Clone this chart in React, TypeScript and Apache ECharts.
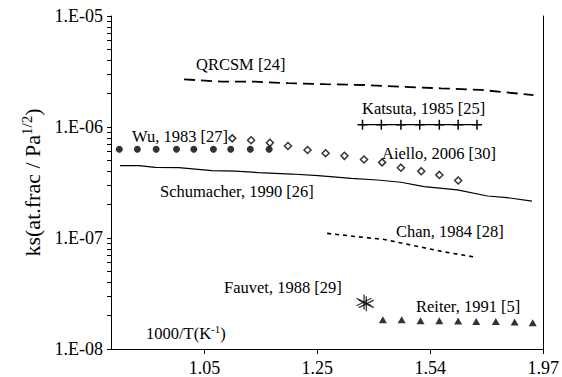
import React, { useEffect, useRef } from "react";
import * as echarts from "echarts";

// x axis: temperature (K), tick labels are 1000/T
const xTickT = [950, 800, 650, 500];
const xTickLabels = ["1.05", "1.25", "1.54", "1.97"];
const yDecades = [-8, -7, -6, -5];
const minorMultipliers = [2, 3, 4, 5, 6, 7, 8, 9];

// QRCSM [24]
const qrcsmT = [977, 927, 883, 839, 790, 737, 689, 636, 583, 513];
const qrcsmKs = [2.69e-6, 2.56e-6, 2.56e-6, 2.48e-6, 2.43e-6, 2.39e-6, 2.31e-6, 2.23e-6, 2.16e-6, 1.94e-6];
// Katsuta, 1985 [25]
const katsutaT = [740, 715, 689, 664, 638, 613, 588];
const katsutaKs = [1.05e-6, 1.05e-6, 1.05e-6, 1.05e-6, 1.05e-6, 1.05e-6, 1.05e-6];
// Wu, 1983 [27]
const wuT = [1063, 1039, 1014, 987, 964, 938, 915, 889, 864];
const wuKs = [6.3e-7, 6.3e-7, 6.3e-7, 6.3e-7, 6.3e-7, 6.3e-7, 6.3e-7, 6.3e-7, 6.3e-7];
// Aiello, 2006 [30]
const aielloT = [913, 888, 863, 839, 813, 789, 764, 738, 714, 689, 662, 638, 613];
const aielloKs = [7.9e-7, 7.6e-7, 7.2e-7, 6.75e-7, 6.2e-7, 5.8e-7, 5.5e-7, 5.1e-7, 4.8e-7, 4.3e-7, 4.0e-7, 3.7e-7, 3.3e-7];
// Schumacher, 1990 [26]
const schumacherT = [1062, 1037, 1015, 984, 940, 909, 878, 834, 799, 755, 720, 689, 658, 614, 574, 548, 515];
const schumacherKs = [4.48e-7, 4.48e-7, 4.33e-7, 4.3e-7, 4.04e-7, 4.01e-7, 3.88e-7, 3.77e-7, 3.64e-7, 3.45e-7, 3.33e-7, 3.18e-7, 2.9e-7, 2.71e-7, 2.39e-7, 2.31e-7, 2.15e-7];
// Chan, 1984 [28]
const chanT = [787, 737, 711, 676, 632, 589];
const chanKs = [1.1e-7, 1.01e-7, 9.7e-8, 8.65e-8, 7.5e-8, 6.7e-8];
// Fauvet, 1988 [29]
const fauvetT = [738, 735];
const fauvetKs = [2.65e-8, 2.55e-8];
// Reiter, 1991 [5]
const reiterT = [713, 688, 663, 638, 613, 589, 563, 538, 514];
const reiterKs = [1.83e-8, 1.83e-8, 1.8e-8, 1.8e-8, 1.79e-8, 1.77e-8, 1.77e-8, 1.75e-8, 1.72e-8];

const annotations = [
  { text: "{t|QRCSM [24]}", x: 196, y: 64 },
  { text: "{t|Katsuta, 1985 [25]}", x: 362, y: 108 },
  { text: "{t|Wu, 1983 [27]}", x: 132, y: 136 },
  { text: "{t|Aiello, 2006 [30]}", x: 382, y: 153 },
  { text: "{t|Schumacher, 1990 [26]}", x: 160, y: 191 },
  { text: "{t|Chan, 1984 [28]}", x: 396, y: 231 },
  { text: "{t|Fauvet, 1988 [29]}", x: 224, y: 287 },
  { text: "{t|Reiter, 1991 [5]}", x: 416, y: 306 },
  { text: "{t|1000/T(K}{sup|-1}{t|)}", x: 146, y: 333 },
];

const FONT = "Liberation Serif";
const PLUS = "path://M5 0L5 10M0 5L10 5";
const ASTER = "path://M10 0L10 20M1.34 5L18.66 15M1.34 15L18.66 5";

export default function App() {
  const ref = useRef<HTMLDivElement>(null);
  useEffect(() => {
    const chart = echarts.init(ref.current!, null, { renderer: "svg" });
    const pair = (xs: number[], ys: number[]) => xs.map((x, i) => [x, ys[i]]);
    const minorTicks = yDecades
      .slice(0, -1)
      .flatMap((d) => minorMultipliers.map((k) => d + Math.log10(k)));
    const black = { color: "#000", width: 1 };
    const tickRich = { s: { fontSize: 18, fontFamily: FONT, color: "#000" } };
    const option: any = {
      animation: false,
      backgroundColor: "#fff",
      textStyle: { fontFamily: FONT },
      grid: { left: 111, right: 16, top: 16, bottom: 28 },
      xAxis: {
        type: "value",
        min: 500,
        max: 1074,
        inverse: true,
        axisLine: { lineStyle: black },
        axisTick: { show: true, length: 5, inside: false, customValues: xTickT, lineStyle: black },
        axisLabel: {
          customValues: xTickT,
          formatter: (v: number) => {
            const i = xTickT.indexOf(v);
            return i >= 0 ? "{s|" + xTickLabels[i] + "}" : "";
          },
          color: "#000",
          fontSize: 18,
          fontFamily: FONT,
          margin: 10,
          rich: tickRich,
        },
        splitLine: { show: false },
      },
      yAxis: [
        {
          type: "log",
          logBase: 10,
          min: 1e-8,
          max: 1e-5,
          axisLine: { show: true, lineStyle: black },
          axisTick: { show: true, length: 4, inside: false, lineStyle: black },
          axisLabel: {
            formatter: (v: number) => {
              const e = Math.round(Math.log10(v));
              return "{s|1.E" + (e < 0 ? "-" : "+") + String(Math.abs(e)).padStart(2, "0") + "}";
            },
            color: "#000",
            fontSize: 18,
            fontFamily: FONT,
            margin: 8,
            rich: tickRich,
          },
          splitLine: { show: false },
          name: "{n|ks(at.frac / Pa}{sup|1/2}{n|)}",
          nameLocation: "middle",
          nameRotate: 90,
          nameGap: 61,
          nameTextStyle: {
            color: "#000",
            fontSize: 22,
            fontFamily: FONT,
            rich: {
              n: { fontSize: 22, fontFamily: FONT, color: "#000" },
              sup: { fontSize: 15, fontFamily: FONT, color: "#000", padding: [0, 0, 12, 0] },
            },
          },
        },
        {
          type: "value",
          min: -8,
          max: -5,
          position: "left",
          axisLine: { show: false },
          axisTick: { show: true, length: 4, inside: false, customValues: minorTicks, lineStyle: black },
          axisLabel: { show: false },
          splitLine: { show: false },
        },
        {
          type: "value",
          min: -8,
          max: -5,
          position: "right",
          axisLine: { show: true, lineStyle: black },
          axisTick: { show: false },
          axisLabel: { show: false },
          splitLine: { show: false },
        },
      ],
      series: [
        {
          name: "QRCSM [24]",
          type: "line",
          data: pair(qrcsmT, qrcsmKs),
          symbol: "none",
          lineStyle: { color: "#000", width: 1.8, type: [11, 6] },
        },
        {
          name: "Katsuta, 1985 [25]",
          type: "line",
          data: pair(katsutaT, katsutaKs),
          symbol: PLUS,
          symbolSize: 10,
          showAllSymbol: true,
          lineStyle: { color: "#000", width: 1.3 },
          itemStyle: { color: "#000", borderColor: "#000", borderWidth: 1.5 },
        },
        {
          name: "Schumacher, 1990 [26]",
          type: "line",
          data: pair(schumacherT, schumacherKs),
          symbol: "none",
          lineStyle: { color: "#000", width: 1.2 },
        },
        {
          name: "Wu, 1983 [27]",
          type: "scatter",
          data: pair(wuT, wuKs),
          symbol: "circle",
          symbolSize: 7,
          itemStyle: { color: "#000" },
        },
        {
          name: "Aiello, 2006 [30]",
          type: "scatter",
          data: pair(aielloT, aielloKs),
          symbol: "diamond",
          symbolSize: 7,
          itemStyle: { color: "#fff", borderColor: "#000", borderWidth: 1.5 },
        },
        {
          name: "Chan, 1984 [28]",
          type: "line",
          data: pair(chanT, chanKs),
          symbol: "none",
          lineStyle: { color: "#000", width: 1.6, type: [4, 4] },
        },
        {
          name: "Fauvet, 1988 [29]",
          type: "scatter",
          data: pair(fauvetT, fauvetKs),
          symbol: ASTER,
          symbolSize: 15,
          itemStyle: { color: "#000", borderColor: "#000", borderWidth: 1.3 },
        },
        {
          name: "Reiter, 1991 [5]",
          type: "scatter",
          data: pair(reiterT, reiterKs),
          symbol: "triangle",
          symbolSize: [8, 7],
          itemStyle: { color: "#000" },
        },
      ],
      graphic: annotations.map((a) => ({
        type: "text",
        x: a.x,
        y: a.y,
        silent: true,
        style: {
          text: a.text,
          fill: "#000",
          fontSize: 16.5,
          fontFamily: FONT,
          verticalAlign: "middle",
          rich: {
            t: { fontSize: 16.5, fontFamily: FONT, fill: "#000" },
            sup: { fontSize: 11, fontFamily: FONT, fill: "#000", padding: [0, 0, 9, 0] },
          },
        },
      })),
    };
    chart.setOption(option);
    return () => chart.dispose();
  }, []);
  return (
    <div
      ref={ref}
      style={{ position: "fixed", left: 0, top: 0, width: 562, height: 377, background: "#fff" }}
    />
  );
}
